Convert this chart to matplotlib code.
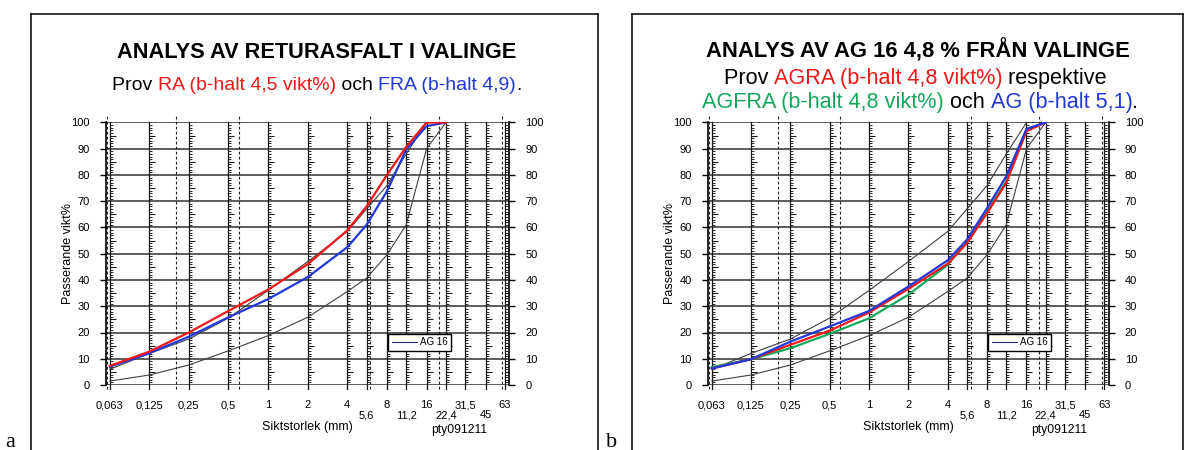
#!/usr/bin/env python3
"""Grading curves (sieve analysis) for two asphalt samples from Valinge, panels a and b."""

import matplotlib
matplotlib.use('Agg')
import matplotlib.pyplot as plt
from matplotlib.lines import Line2D

# sieve sizes (mm) where the samples were measured
SIEVES = [0.063, 0.125, 0.25, 0.5, 1, 2, 4, 5.6, 8, 11.2, 16, 22.4]

# AG 16 grading envelope (passing %)
AG16_LOWER = [1.5, 3.8, 7.6, 13.0, 18.8, 25.8, 35.6, 40.7, 49.6, 61.0, 90.0, 100]
AG16_UPPER = [6.0, 12.0, 17.5, 25.5, 36.0, 47.0, 58.5, 67.0, 76.0, 88.0, 100, 100]

# panel a
RA = [7.3, 12.7, 20.0, 28.2, 36.3, 46.0, 58.9, 68.0, 80.0, 90.7, 100, 100]
FRA = [7.0, 12.1, 18.4, 25.8, 32.7, 41.1, 52.5, 61.0, 73.8, 89.7, 98.6, 100]

# panel b
AGRA = [6.3, 9.8, 15.3, 20.7, 27.6, 36.6, 46.2, 54.0, 65.5, 77.0, 96.7, 100]
AGFRA = [6.8, 9.8, 14.0, 19.5, 25.4, 34.4, 45.8, 54.7, 66.0, 77.6, 97.3, 100]
AG = [6.3, 9.8, 16.5, 22.3, 28.2, 37.5, 47.5, 55.3, 67.4, 79.5, 97.6, 100]

# x-axis grid / tick labels
GRID_SOLID = [0.063, 0.125, 0.25, 0.5, 1, 2, 4, 5.6, 8, 11.2, 16, 22.4, 31.5, 45, 63]
GRID_DASHED = [0.06, 0.2, 0.6, 6, 20, 60]
UPPER_TICKS = [0.063, 0.125, 0.25, 0.5, 1, 2, 4, 8, 16, 31.5, 63]
UPPER_LABELS = ['0,063', '0,125', '0,25', '0,5', '1', '2', '4', '8', '16', '31,5', '63']
LOWER_TICKS = [5.6, 11.2, 22.4, 45]
LOWER_LABELS = ['5,6', '11,2', '22,4', '45']

RED = '#f01818'
BLUE = '#2238d8'
GREEN = '#12a85a'

W, H = 1186, 450
plt.rcParams['font.family'] = ['Liberation Sans', 'DejaVu Sans']


def fx(px):
    return px / W


def fy(py):
    return 1 - py / H


def colored_line(fig, xc, y_base, parts, size, weight='normal'):
    r = fig.canvas.get_renderer()

    def width(s):
        t = fig.text(0, 0, s + '|', fontsize=size, fontweight=weight)
        w = t.get_window_extent(r).width
        t.remove()
        return w

    bar = width('')
    total = width(''.join(s for s, _ in parts)) - bar
    x0 = xc - total / 2
    prefix = ''
    for s, c in parts:
        fig.text(fx(x0 + width(prefix) - bar), fy(y_base), s, color=c,
                 fontsize=size, fontweight=weight, ha='left', va='baseline')
        prefix += s


def draw_panel(fig, rect, series):
    ax = fig.add_axes(rect)
    ax.set_xscale('log', base=2)
    ax.set_xlim(0.0585, 68)
    ax.set_ylim(0, 100)

    for y in range(0, 101, 10):
        ax.axhline(y, color='#303030', lw=1.1, zorder=1)
    for x in GRID_SOLID:
        ax.plot([x, x], [-1.5, 100], color='#151515', lw=0.9, clip_on=False, zorder=1)
    for x in GRID_DASHED:
        ax.plot([x, x], [-1.5, 102.3], color='#202020', lw=0.8, ls=(0, (2.5, 2)),
                clip_on=False, zorder=1)

    # ruler marks along the sieve lines
    ys_small = [y for y in range(101) if y % 5]
    ys_big = list(range(5, 101, 10))
    tick = [(0, 0), (1, 0)]
    for x in GRID_SOLID:
        ax.plot([x] * len(ys_small), ys_small, ls='none', marker=tick, ms=5,
                mew=0.7, color='#2a2a2a', zorder=1)
        ax.plot([x] * len(ys_big), ys_big, ls='none', marker=tick, ms=9,
                mew=0.8, color='#1a1a1a', zorder=1)

    ax.plot(SIEVES, AG16_LOWER, color='#404040', lw=0.8, zorder=2)
    ax.plot(SIEVES, AG16_UPPER, color='#404040', lw=0.8, zorder=2)
    for vals, col in series:
        ax.plot(SIEVES, vals, color=col, lw=1.6, zorder=3)

    leg = ax.legend([Line2D([], [], color='#1c2470', lw=0.8)], ['AG 16'],
                    loc='lower left', bbox_to_anchor=(0.70, 0.13), borderaxespad=0,
                    fancybox=False, edgecolor='black', framealpha=1, fontsize=7,
                    handlelength=2.6, handletextpad=0.3, borderpad=0.35)
    leg.get_frame().set_linewidth(1.0)

    for side in ('top', 'bottom'):
        ax.spines[side].set_visible(False)
    for side in ('left', 'right'):
        ax.spines[side].set_linewidth(1.2)

    ax.set_yticks(range(0, 101, 10))
    ax.tick_params(axis='y', left=True, right=True, labelleft=True, labelright=True,
                   direction='out', length=4.5, width=1.0, labelsize=8, pad=7)
    ax.set_xticks(UPPER_TICKS, UPPER_LABELS)
    ax.set_xticks(LOWER_TICKS, LOWER_LABELS, minor=True)
    ax.tick_params(axis='x', which='major', length=0, labelsize=8, pad=11)
    ax.tick_params(axis='x', which='minor', length=0, labelsize=8, pad=18)

    ax.text(0.5, -0.159, 'Siktstorlek (mm)', transform=ax.transAxes,
            ha='center', va='center', fontsize=9)
    ax.text(0.876, -0.173, 'pty091211', transform=ax.transAxes,
            ha='center', va='center', fontsize=8.7)
    ax.text(-0.093, 0.5, 'Passerande vikt%', transform=ax.transAxes, rotation=90,
            ha='center', va='center', fontsize=9)
    return ax


def frame(fig, x0, x1):
    kw = dict(color='black', lw=1.1, transform=fig.transFigure)
    fig.add_artist(Line2D([fx(x0), fx(x0)], [fy(14), 0], **kw))
    fig.add_artist(Line2D([fx(x0), fx(x1)], [fy(14), fy(14)], **kw))
    fig.add_artist(Line2D([fx(x1), fx(x1)], [fy(14), 0], **kw))


def main():
    fig = plt.figure(figsize=(W / 100, H / 100), dpi=100)

    ax_h = (385 - 122.5) / H
    draw_panel(fig, [fx(105.7), fy(385), (509.3 - 105.7) / W, ax_h],
               [(FRA, BLUE), (RA, RED)])
    draw_panel(fig, [fx(707.7), fy(385), (1108.7 - 707.7) / W, ax_h],
               [(AGFRA, GREEN), (AGRA, RED), (AG, BLUE)])

    frame(fig, 31, 598)
    frame(fig, 632, 1183)

    fig.text(fx(317), fy(57.8), 'ANALYS AV RETURASFALT I VALINGE', ha='center',
             va='baseline', fontsize=15.7, fontweight='bold')
    colored_line(fig, 317, 89.5, [('Prov ', 'black'), ('RA (b-halt 4,5 vikt%)', RED),
                                  (' och ', 'black'), ('FRA (b-halt 4,9)', BLUE),
                                  ('.', 'black')], 14)

    fig.text(fx(918), fy(57.8), 'ANALYS AV AG 16 4,8 % FRÅN VALINGE', ha='center',
             va='baseline', fontsize=15.8, fontweight='bold')
    colored_line(fig, 915, 84, [('Prov ', 'black'), ('AGRA (b-halt 4,8 vikt%)', RED),
                                (' respektive', 'black')], 15.6)
    colored_line(fig, 920, 108, [('AGFRA (b-halt 4,8 vikt%)', GREEN), (' och ', 'black'),
                                 ('AG (b-halt 5,1)', BLUE), ('.', 'black')], 15.6)

    fig.text(fx(5), fy(447), 'a', fontsize=16, family='Liberation Serif', va='baseline')
    fig.text(fx(606), fy(447), 'b', fontsize=16, family='Liberation Serif', va='baseline')

    fig.savefig('out.png', dpi=100)


if __name__ == '__main__':
    main()
